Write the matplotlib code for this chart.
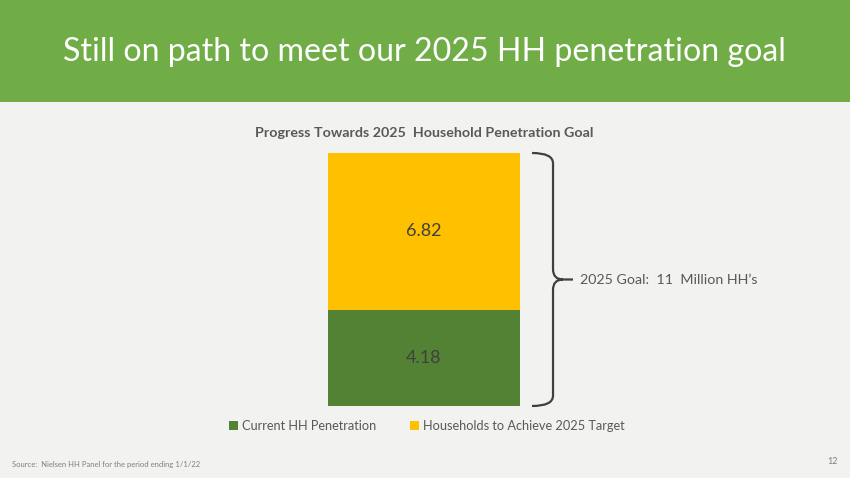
import matplotlib
matplotlib.use("Agg")
import matplotlib.pyplot as plt
from matplotlib.patches import Rectangle, PathPatch
from matplotlib.path import Path

plt.rcParams['font.family'] = ['Lato', 'DejaVu Sans']

# ---- data ----
categories = ["Progress"]
series_names = ["Current HH Penetration", "Households to Achieve 2025 Target"]
current_hh = [4.18]
to_achieve = [6.82]
goal_total = 11
series_colors = ["#548235", "#FFC000"]

W, H = 850, 478
fig = plt.figure(figsize=(W / 100, H / 100), dpi=100)
fig.patch.set_facecolor("#F2F2F1")

def fx(px):
    return px / W

def fy(py):
    return 1 - py / H

# header band
fig.patches.append(Rectangle((0, fy(102)), 1, 102 / H, transform=fig.transFigure,
                             facecolor="#70AD47", edgecolor="none", zorder=0))
fig.text(fx(424), fy(52), "Still on path to meet our 2025 HH penetration goal",
         color="white", fontsize=23.1, ha="center", va="center")

# axes
ax = fig.add_axes([fx(328), fy(406), fx(520) - fx(328), fy(153) - fy(406)])
ax.set_facecolor("none")
ax.bar(categories, current_hh, width=1.0, color=series_colors[0], label=series_names[0])
ax.bar(categories, to_achieve, width=1.0, bottom=current_hh, color=series_colors[1],
       label=series_names[1])
ax.set_xlim(-0.5, 0.5)
ax.set_ylim(0, goal_total)
ax.axis("off")

for i, c in enumerate(categories):
    ax.text(i, current_hh[i] / 2, f"{current_hh[i]:.2f}", ha="center", va="center",
            fontsize=13, color="#404040")
    ax.text(i, current_hh[i] + to_achieve[i] / 2, f"{to_achieve[i]:.2f}", ha="center",
            va="center", fontsize=13, color="#404040")

# chart title
fig.text(fx(424), fy(133), "Progress Towards 2025  Household Penetration Goal",
         fontsize=10.3, fontweight="bold", color="#595959", ha="center", va="center")

# bracket (x in axes coords, y in data)
tr = ax.get_yaxis_transform()
mid = goal_total / 2
x0, xv, xt, xe = 1.0625, 1.172, 1.224, 1.276
r = 0.45
verts = [(x0, goal_total), (xv, goal_total), (xv, goal_total - r), (xv, mid + r),
         (xv, mid), (xt, mid),
         (x0, 0), (xv, 0), (xv, r), (xv, mid - r), (xv, mid), (xt, mid), (xe, mid)]
codes = [Path.MOVETO, Path.CURVE3, Path.CURVE3, Path.LINETO, Path.CURVE3, Path.CURVE3,
         Path.MOVETO, Path.CURVE3, Path.CURVE3, Path.LINETO, Path.CURVE3, Path.CURVE3,
         Path.LINETO]
ax.add_patch(PathPatch(Path(verts, codes), transform=tr, facecolor="none",
                       edgecolor="#404040", lw=1.6, clip_on=False))
ax.text(1.315, mid, "2025 Goal:  11  Million HH\u2019s", transform=tr, ha="left",
        va="center", fontsize=10.3, color="#595959")

# legend
leg = fig.legend(loc="center", bbox_to_anchor=(fx(427), fy(426)), ncol=2, frameon=False,
                 fontsize=9.2, handlelength=0.7, handleheight=0.7, handletextpad=0.35,
                 columnspacing=2.6, labelcolor="#595959")

fig.text(fx(12), fy(464), "Source:  Nielsen HH Panel for the period ending 1/1/22",
         fontsize=5.5, color="#7F7F7F", ha="left", va="center")
fig.text(fx(838), fy(461), "12", fontsize=6.5, color="#7F7F7F", ha="right", va="center")

fig.savefig("out.png", dpi=100, facecolor=fig.get_facecolor())
